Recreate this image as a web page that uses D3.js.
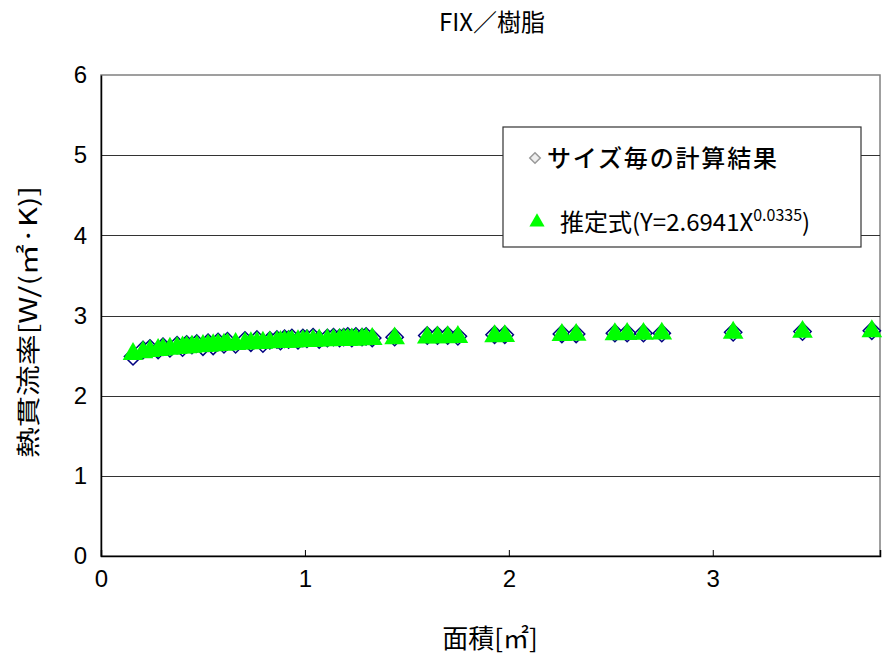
<!DOCTYPE html>
<html><head><meta charset="utf-8">
<script src="https://cdn.jsdelivr.net/npm/d3@7"></script>
<style>body{margin:0;background:#fff}svg{display:block}</style>
</head><body>
<svg id="c" width="883" height="656"></svg>
<script>
const title = "FIX／樹脂";
const xLabel = "面積[㎡]";
const yLabel = "熱貫流率[W/(㎡·K)]";
const legendCalc = "サイズ毎の計算結果";
const legendEstMain = "推定式(Y=2.6941X";
const legendEstSup = "0.0335";
const xTicks = [0, 1, 2, 3];
const yTicks = [0, 1, 2, 3, 4, 5, 6];

const areaValues = [0.157,0.206,0.24,0.28,0.304,0.338,0.373,0.40,0.42,0.446,0.47,0.50,0.525,0.55,0.574,0.603,0.62,0.66,0.706,0.735,0.765,0.794,0.828,0.863,0.88,0.90,0.92,0.936,0.966,0.99,1.01,1.04,1.07,1.11,1.14,1.17,1.19,1.21,1.23,1.25,1.28,1.30,1.33,1.44,1.60,1.65,1.70,1.75,1.93,1.98,2.26,2.33,2.52,2.58,2.66,2.75,3.10,3.44,3.78];
const calcValues = [2.49,2.57,2.59,2.57,2.61,2.59,2.63,2.60,2.64,2.63,2.65,2.61,2.66,2.62,2.67,2.64,2.68,2.64,2.69,2.66,2.70,2.65,2.69,2.70,2.68,2.71,2.70,2.72,2.69,2.72,2.71,2.73,2.70,2.72,2.73,2.72,2.73,2.74,2.72,2.74,2.73,2.74,2.72,2.73,2.75,2.75,2.75,2.74,2.76,2.76,2.77,2.77,2.78,2.78,2.78,2.78,2.79,2.80,2.81];
const estValues = [2.532,2.555,2.568,2.582,2.589,2.598,2.607,2.613,2.617,2.622,2.627,2.632,2.636,2.641,2.645,2.649,2.651,2.657,2.663,2.666,2.670,2.673,2.677,2.681,2.682,2.685,2.687,2.688,2.691,2.693,2.695,2.698,2.700,2.704,2.706,2.708,2.710,2.711,2.713,2.714,2.716,2.718,2.720,2.727,2.737,2.740,2.742,2.745,2.754,2.756,2.769,2.771,2.779,2.781,2.784,2.787,2.798,2.808,2.816];

const svg = d3.select("#c");
const L = 101, R = 880, T = 75, B = 556;
const x = d3.scaleLinear().domain([0, 3.82]).range([L, R]);
const y = d3.scaleLinear().domain([0, 6]).range([B, T]);
const narrow = "'Liberation Sans Narrow','Liberation Sans','Noto Sans CJK JP',sans-serif";
const cjk = "'Noto Sans CJK JP','Liberation Sans',sans-serif";

// plot border
svg.append("rect").attr("x", L).attr("y", T).attr("width", R - L).attr("height", B - T)
  .attr("fill", "#fff").attr("stroke", "#808080").attr("stroke-width", 1.5);

// gridlines
svg.append("g").selectAll("line").data(yTicks.filter(d => d > 0 && d < 6)).join("line")
  .attr("x1", L).attr("x2", R).attr("y1", d => Math.round(y(d)) + 0.5).attr("y2", d => Math.round(y(d)) + 0.5)
  .attr("stroke", "#333").attr("stroke-width", 1);

// axes
const xAxis = svg.append("g").attr("transform", `translate(0,${B})`)
  .call(d3.axisBottom(x).tickValues(xTicks).tickSize(-6).tickPadding(14).tickFormat(d3.format("d")));
xAxis.select(".domain").attr("stroke", "#000").attr("stroke-width", 1.5);
xAxis.selectAll(".tick line").attr("stroke", "#000");
xAxis.selectAll("text").attr("font-family", narrow).attr("font-size", 24).attr("fill", "#000");

const yAxis = svg.append("g").attr("transform", `translate(${L},0)`)
  .call(d3.axisLeft(y).tickValues(yTicks).tickSize(0).tickPadding(14).tickFormat(d3.format("d")));
yAxis.select(".domain").attr("stroke", "#000").attr("stroke-width", 1.5);
yAxis.selectAll("text").attr("font-family", narrow).attr("font-size", 24).attr("fill", "#000");

// markers
const diamond = d3.symbol().type(d3.symbolDiamond2).size(190);
const tri = d3.symbol().type(d3.symbolTriangle).size(185);

svg.append("g").selectAll("path").data(areaValues.map((a, i) => [a, calcValues[i]])).join("path")
  .attr("d", diamond).attr("transform", d => `translate(${x(d[0])},${y(d[1])})`)
  .attr("fill", "#fff").attr("stroke", "#000080").attr("stroke-width", 1.5);

svg.append("g").selectAll("path").data(areaValues.map((a, i) => [a, estValues[i]])).join("path")
  .attr("d", tri).attr("transform", d => `translate(${x(d[0])},${y(d[1]) + 1})`)
  .attr("fill", "#00ff00");

// legend
const lg = svg.append("g");
lg.append("rect").attr("x", 503).attr("y", 127).attr("width", 358).attr("height", 120)
  .attr("fill", "#fff").attr("stroke", "#333").attr("stroke-width", 1.2);
lg.append("path").attr("d", d3.symbol().type(d3.symbolDiamond2).size(70))
  .attr("transform", "translate(535,158)").attr("fill", "#eee").attr("stroke", "#999").attr("stroke-width", 1.5);
lg.append("text").attr("x", 547).attr("y", 167).text(legendCalc)
  .attr("font-family", cjk).attr("font-size", 24).attr("font-weight", 500).attr("textLength", 230).attr("fill", "#000");
lg.append("path").attr("d", d3.symbol().type(d3.symbolTriangle).size(100))
  .attr("transform", "translate(537,222)").attr("fill", "#00ff00");
const t2 = lg.append("text").attr("x", 560).attr("y", 231).attr("font-family", cjk).attr("font-size", 24).attr("fill", "#000");
t2.append("tspan").text(legendEstMain);
t2.append("tspan").text(legendEstSup).attr("font-size", 16).attr("dy", -10);
t2.append("tspan").text(")").attr("dy", 10);

// titles
svg.append("text").attr("x", 492).attr("y", 31).attr("text-anchor", "middle").text(title)
  .attr("font-family", cjk).attr("font-size", 24).attr("fill", "#000");
svg.append("text").attr("x", 490).attr("y", 648).attr("text-anchor", "middle").text(xLabel)
  .attr("font-family", cjk).attr("font-size", 26).attr("fill", "#000");
svg.append("text").attr("transform", "translate(37,322) rotate(-90)").attr("text-anchor", "middle").text(yLabel)
  .attr("font-family", cjk).attr("font-size", 24).attr("textLength", 272).attr("lengthAdjust", "spacingAndGlyphs").attr("fill", "#000");
</script>
</body></html>
